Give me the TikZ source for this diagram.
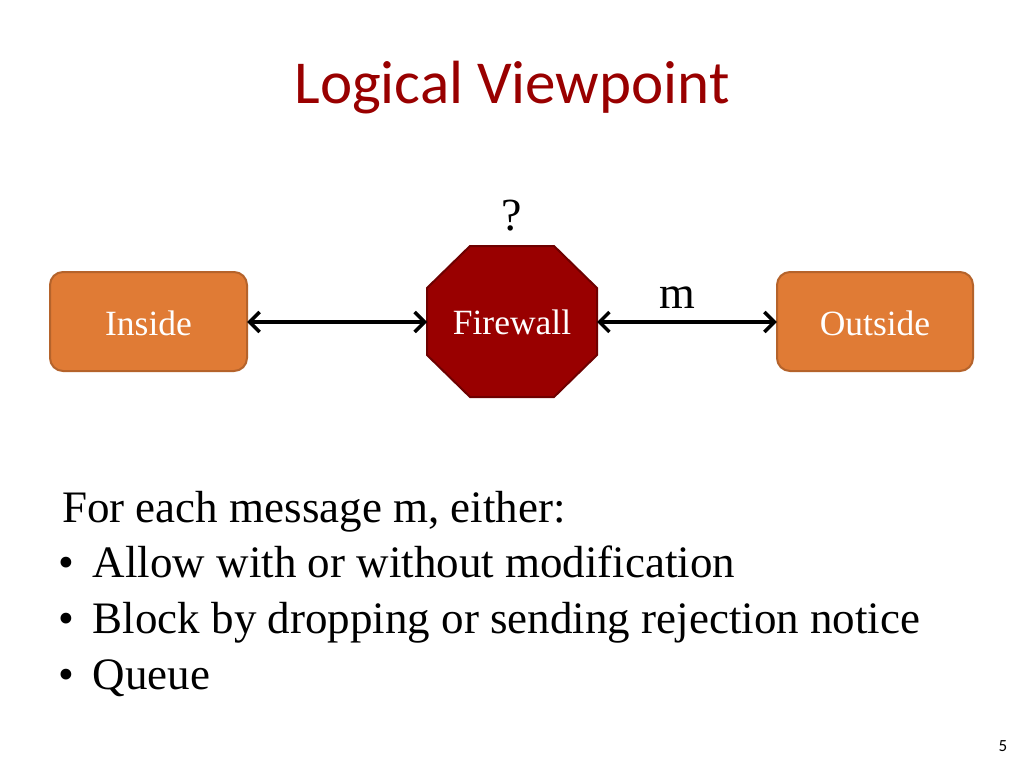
\documentclass[tikz,border=0pt]{standalone}
\usepackage{fontspec}
\setmainfont{Liberation Serif}
\newfontfamily\titlefont{Carlito}
\usetikzlibrary{arrows.meta}
\definecolor{titlered}{HTML}{990000}
\definecolor{boxorange}{HTML}{E07B35}
\definecolor{boxedge}{HTML}{B5632B}
\definecolor{fwred}{HTML}{990000}
\definecolor{fwedge}{HTML}{6E0000}
\tikzset{
  sidebox/.style={draw=boxedge, line width=2pt, fill=boxorange, rounded corners=13pt},
  boxtext/.style={text=white, font=\fontsize{35.5}{40}\selectfont, anchor=base},
  link/.style={draw=black, line width=3.5pt, {Straight Barb[length=10pt,width=20pt]}-{Straight Barb[length=10pt,width=20pt]}},
  bodytext/.style={anchor=base west, font=\fontsize{45}{56}\selectfont, inner sep=0pt},
}
\begin{document}
\begin{tikzpicture}[x=1pt,y=-1pt]
\useasboundingbox (0,0) rectangle (1024,768);
\fill[white] (0,0) rectangle (1024,768);
% title
\node[anchor=base, text=titlered, font=\titlefont\fontsize{61}{70}\selectfont, inner sep=0pt] (title) at (512,103) {Logical Viewpoint};
% boxes
\draw[sidebox] (50,272) rectangle (247,371);
\node (inside) at (148.5,321.5) [minimum width=197pt, minimum height=99pt, inner sep=0pt] {};
\node[boxtext] (insidet) at (148.5,335) {Inside};
\draw[sidebox] (777,272) rectangle (973,371);
\node (outside) at (875,321.5) [minimum width=196pt, minimum height=99pt, inner sep=0pt] {};
\node[boxtext] (outsidet) at (875,335) {Outside};
% octagon
\draw[fill=fwred, draw=fwedge, line width=2pt] (470,246) -- (554,246) -- (597,288) -- (597,355) -- (554,397) -- (470,397) -- (427,355) -- (427,288) -- cycle;
\coordinate (fwl) at (427,322);
\coordinate (fwr) at (597,322);
\node[boxtext] (fwt) at (512,334) {Firewall};
% connectors
\draw[link] (inside.east |- fwl) -- (fwl);
\draw[link] (fwr) -- (outside.west |- fwr);
% labels
\node[anchor=base, font=\fontsize{46}{50}\selectfont, inner sep=0pt] (q) at (512,230) {?};
\node[anchor=base, font=\fontsize{46}{50}\selectfont, inner sep=0pt] (m) at (677,308) {m};
% body
\node[bodytext] (l0) at (62,522) {For each message m, either:};
\node[bodytext] (l1) at (58,577) {\textbullet\hspace{19pt}Allow with or without modification};
\node[bodytext] (l2) at (58,633) {\textbullet\hspace{19pt}Block by dropping or sending rejection notice};
\node[bodytext] (l3) at (58,689) {\textbullet\hspace{19pt}Queue};
% page number
\node[anchor=base, font=\titlefont\fontsize{17}{20}\selectfont, inner sep=0pt] (pg) at (1003,751) {5};
\end{tikzpicture}
\end{document}
